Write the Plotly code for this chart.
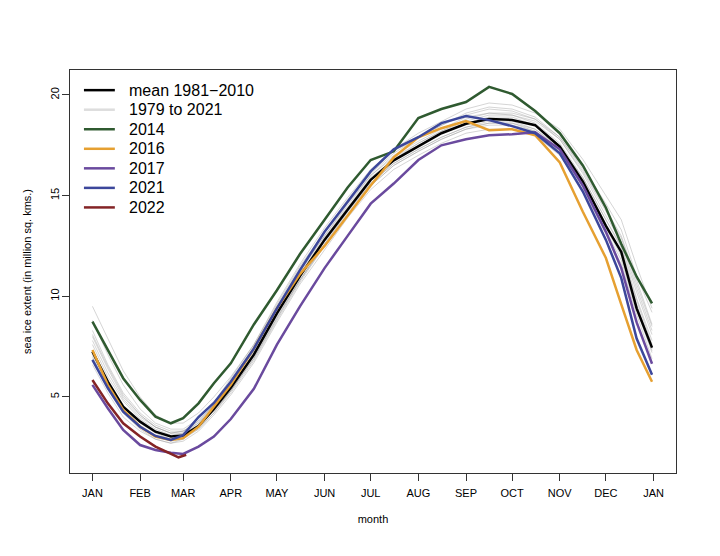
import plotly.graph_objects as go

days = [1, 11, 21, 32, 42, 52, 60, 70, 80, 91, 106, 121, 136, 152, 167, 182,
        197, 213, 228, 244, 259, 274, 289, 305, 320, 335, 345, 355, 365]

mean_1981_2010 = [7.25, 5.76, 4.52, 3.77, 3.27, 3.03, 3.08, 3.55, 4.4, 5.45, 7.1, 9.15, 11.0, 12.8, 14.3, 15.78,
                  16.75, 17.45, 18.1, 18.57, 18.8, 18.76, 18.5, 17.43, 15.7, 13.5, 12.2, 9.4, 7.45]

y2014 = [8.74, 7.33, 5.93, 4.85, 4.02, 3.69, 3.94, 4.68, 5.68, 6.67, 8.6, 10.3, 12.1, 13.8, 15.4, 16.77,
         17.2, 18.85, 19.3, 19.65, 20.4, 20.05, 19.2, 18.1, 16.5, 14.4, 12.6, 10.97, 9.65]
y2016 = [7.33, 5.6, 4.35, 3.52, 3.03, 2.86, 2.95, 3.52, 4.52, 5.6, 7.4, 9.4, 11.1, 12.5, 14.0, 15.5,
         16.9, 17.9, 18.35, 18.7, 18.25, 18.3, 18.0, 16.65, 14.2, 11.9, 9.6, 7.33, 5.75]
y2017 = [5.6, 4.44, 3.36, 2.61, 2.36, 2.23, 2.17, 2.53, 3.03, 3.9, 5.4, 7.6, 9.5, 11.4, 13.0, 14.6,
         15.6, 16.77, 17.5, 17.8, 18.0, 18.05, 18.15, 17.3, 15.5, 13.2, 11.4, 8.7, 6.65]
y2021 = [6.84, 5.44, 4.27, 3.52, 3.06, 2.86, 3.1, 4.0, 4.7, 5.75, 7.4, 9.4, 11.3, 13.2, 14.7, 16.2,
         17.3, 17.9, 18.6, 18.95, 18.75, 18.45, 18.1, 17.1, 15.2, 12.8, 10.9, 7.9, 6.1]

days_2022 = [1, 11, 21, 32, 42, 52, 57, 62]
y2022 = [5.84, 4.68, 3.69, 3.03, 2.53, 2.2, 2.0, 2.12]

# other years 1979-2021 (grey band)
grey_years = [
    [9.5, 7.9, 6.3, 5.0, 4.1, 3.7, 3.7, 4.2, 5.0, 6.0, 7.6, 9.6, 11.5, 13.2, 14.7, 16.1, 17.1, 17.9, 18.5, 19.0, 19.3, 19.2, 18.8, 17.9, 16.4, 14.6, 13.3, 11.0, 9.2],
    [8.3, 6.6, 5.2, 4.2, 3.6, 3.3, 3.3, 3.8, 4.6, 5.7, 7.3, 9.4, 11.3, 13.0, 14.5, 16.0, 16.9, 17.6, 18.2, 18.7, 19.0, 19.0, 18.7, 17.8, 16.2, 14.2, 12.9, 10.6, 8.5],
    [7.8, 6.2, 4.9, 4.0, 3.5, 3.2, 3.3, 3.7, 4.5, 5.5, 7.0, 9.0, 10.8, 12.6, 14.1, 15.6, 16.6, 17.3, 17.9, 18.4, 18.6, 18.6, 18.3, 17.4, 15.9, 13.8, 12.5, 10.2, 8.1],
    [7.0, 5.5, 4.3, 3.5, 3.0, 2.8, 2.9, 3.4, 4.2, 5.2, 6.8, 8.8, 10.7, 12.5, 14.0, 15.5, 16.5, 17.2, 17.8, 18.3, 18.5, 18.5, 18.2, 17.2, 15.4, 13.2, 11.8, 9.3, 7.2],
    [7.6, 6.0, 4.8, 3.9, 3.4, 3.1, 3.2, 3.6, 4.3, 5.3, 7.0, 9.1, 11.0, 12.9, 14.4, 15.9, 16.8, 17.6, 18.2, 18.8, 19.1, 19.0, 18.6, 17.6, 15.9, 13.8, 12.4, 9.9, 7.8],
    [6.6, 5.2, 4.0, 3.3, 2.9, 2.7, 2.8, 3.3, 4.1, 5.1, 6.7, 8.7, 10.6, 12.3, 13.9, 15.3, 16.3, 17.0, 17.6, 18.1, 18.3, 18.3, 18.0, 17.0, 15.3, 13.1, 11.6, 9.1, 6.9],
    [8.0, 6.4, 5.0, 4.1, 3.5, 3.2, 3.2, 3.7, 4.6, 5.8, 7.5, 9.5, 11.4, 13.2, 14.8, 16.2, 17.2, 17.9, 18.5, 19.1, 19.4, 19.3, 18.9, 17.9, 16.3, 14.3, 13.0, 10.8, 8.6],
    [7.3, 5.8, 4.5, 3.7, 3.2, 2.9, 3.0, 3.4, 4.2, 5.3, 6.9, 8.9, 10.8, 12.6, 14.2, 15.6, 16.6, 17.3, 17.9, 18.4, 18.7, 18.7, 18.3, 17.3, 15.6, 13.5, 12.2, 9.8, 7.6],
    [6.9, 5.4, 4.2, 3.4, 2.9, 2.7, 2.9, 3.5, 4.4, 5.5, 7.2, 9.2, 11.1, 12.9, 14.4, 15.8, 16.8, 17.5, 18.1, 18.6, 18.9, 18.9, 18.5, 17.5, 15.8, 13.6, 12.1, 9.6, 7.4],
    [8.8, 7.1, 5.6, 4.4, 3.7, 3.4, 3.4, 3.9, 4.7, 5.9, 7.6, 9.7, 11.6, 13.4, 14.9, 16.3, 17.3, 18.1, 18.7, 19.3, 19.6, 19.5, 19.1, 18.3, 16.8, 15.0, 13.8, 11.5, 9.4],
    [7.1, 5.6, 4.4, 3.6, 3.1, 2.9, 3.0, 3.5, 4.3, 5.3, 6.9, 8.9, 10.8, 12.5, 14.0, 15.5, 16.5, 17.2, 17.8, 18.3, 18.6, 18.6, 18.2, 17.1, 15.5, 13.4, 12.0, 9.5, 7.3],
    [8.1, 6.5, 5.1, 4.1, 3.5, 3.2, 3.3, 3.8, 4.6, 5.6, 7.3, 9.3, 11.2, 13.0, 14.6, 16.0, 17.0, 17.7, 18.3, 18.9, 19.1, 19.1, 18.8, 17.8, 16.1, 14.0, 12.7, 10.4, 8.3],
]

month_days = [1, 32, 60, 91, 121, 152, 182, 213, 244, 274, 305, 335, 366]
month_labels = ["JAN", "FEB", "MAR", "APR", "MAY", "JUN", "JUL", "AUG", "SEP", "OCT", "NOV", "DEC", "JAN"]

GREY = "rgba(150,150,150,0.5)"
fig = go.Figure()

# grey lines for all years
for vals in grey_years:
    fig.add_trace(go.Scatter(x=days, y=vals, mode="lines", name="1979 to 2021",
                             line=dict(color=GREY, width=0.8), showlegend=False,
                             hoverinfo="skip"))

fig.add_trace(go.Scatter(x=days, y=mean_1981_2010, mode="lines", name="mean 1981\u22122010",
                         line=dict(color="black", width=2.5), showlegend=False))

highlight = [
    ("2014", days, y2014, "#2f5a30"),
    ("2016", days, y2016, "#e6a031"),
    ("2017", days, y2017, "#6a4a9e"),
    ("2021", days, y2021, "#3c479b"),
    ("2022", days_2022, y2022, "#842426"),
]
for name, xs, ys, col in highlight:
    fig.add_trace(go.Scatter(x=xs, y=ys, mode="lines", name=name,
                             line=dict(color=col, width=2.5), showlegend=False))

# legend drawn like R's legend(): line sample + label, tight rows
legend_items = [("mean 1981\u22122010", "black")] + [("1979 to 2021", "#dddddd")] + \
               [(name, col) for name, _, _, col in highlight]
top, step = 0.950, 0.0485
for i, (label, col) in enumerate(legend_items):
    yy = top - i * step
    fig.add_shape(type="line", xref="paper", yref="paper", x0=0.023, x1=0.074, y0=yy, y1=yy,
                  line=dict(color=col, width=2.5))
    fig.add_annotation(xref="paper", yref="paper", x=0.094, y=yy, text=label, showarrow=False,
                       xanchor="left", yanchor="middle", font=dict(size=16, color="black"))

fig.update_layout(
    width=720, height=556,
    margin=dict(l=62, r=52, t=62, b=91),
    plot_bgcolor="white", paper_bgcolor="white",
    font=dict(family="Liberation Sans, Arial, sans-serif", color="black", size=11),
    showlegend=False,
    xaxis=dict(range=[-13.6, 380.6], tickmode="array", tickvals=month_days, ticktext=month_labels,
               ticks="outside", ticklen=7, tickcolor="#333", showgrid=False, zeroline=False,
               showline=True, mirror=True, linecolor="#333", linewidth=1.2, automargin=False,
               ticklabelstandoff=3,
               title=dict(text="month", font=dict(size=11), standoff=17)),
    yaxis=dict(range=[1.22, 21.24], tickvals=[5, 10, 15, 20], tickangle=-90,
               ticks="outside", ticklen=7, tickcolor="#333", showgrid=False, zeroline=False,
               showline=True, mirror=True, linecolor="#333", linewidth=1.2, automargin=False,
               ticklabelstandoff=-1,
               title=dict(text="sea ice extent (in million sq. kms.)", font=dict(size=11), standoff=14)),
)

fig.write_html("out.html")
